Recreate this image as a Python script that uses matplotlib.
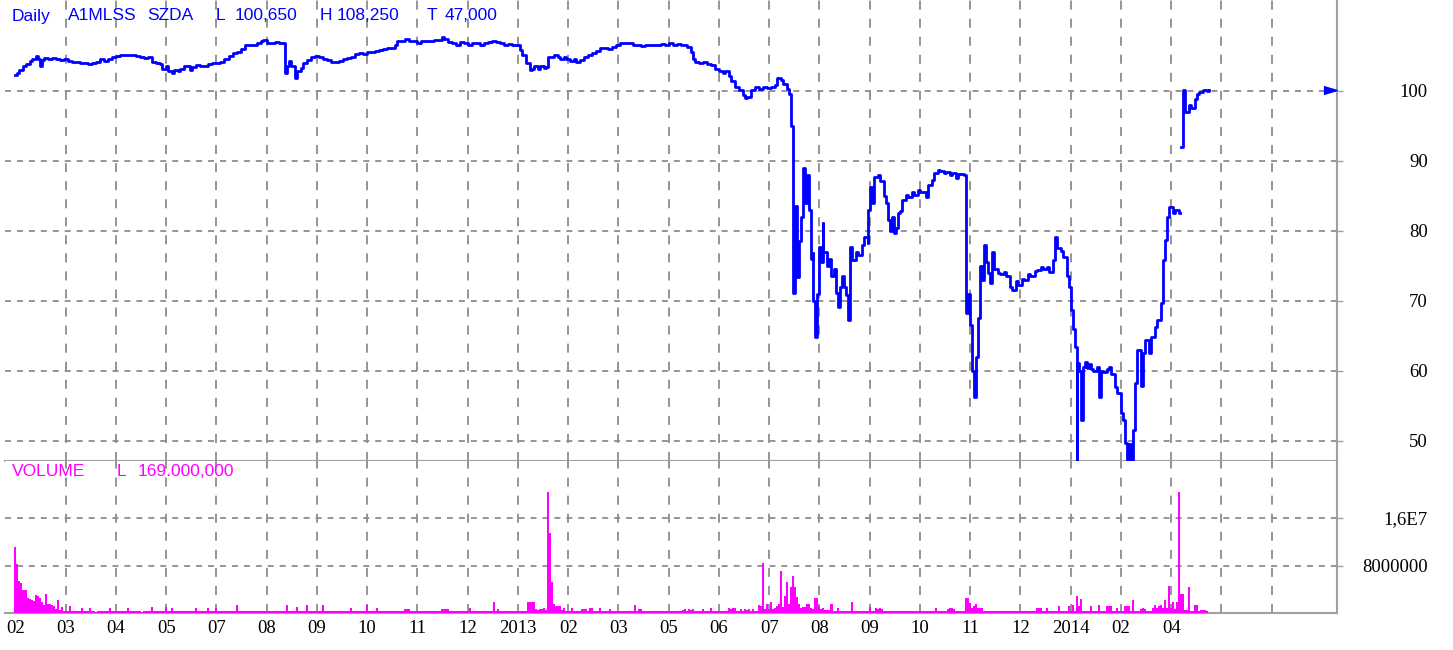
import numpy as np
import matplotlib
matplotlib.use("Agg")
import matplotlib.pyplot as plt
from matplotlib.transforms import blended_transform_factory

plt.rcParams['lines.scale_dashes'] = False

# ---------------- data ----------------
tick_labels = ['02', '03', '04', '05', '07', '08', '09', '10', '11', '12', '2013',
               '02', '03', '05', '06', '07', '08', '09', '10', '11', '12', '2014',
               '02', '04', '', '']
days_per_label = 25

price_ticks = [50, 60, 70, 80, 90, 100]
vol_ticks = [8, 16]
vol_tick_labels = ['8000000', '1,6E7']

header_items = [('Daily', 12), ('A1MLSS', 68), ('SZDA', 147), ('L', 216), ('100,650', 235),
                ('H', 320), ('108,250', 337), ('T', 427), ('47,000', 445)]
volume_header = [('VOLUME', 12), ('L', 117), ('169.000,000', 138)]

# (trading-day index, price)
price_points = [
    (0, 102.3), (1, 102.6), (2, 103.0), (4, 103.5), (5, 103.9), (7, 104.3), (8, 104.6), (10, 105.0),
    (11, 104.6), (12, 103.5), (13, 104.4), (14, 104.7), (16, 104.5), (18, 104.7), (20, 104.6), (22, 104.4),
    (24, 104.5), (26, 104.3), (28, 104.1), (30, 104.2), (32, 104.0), (34, 104.0), (36, 103.9), (38, 104.0),
    (40, 104.1), (42, 104.5), (44, 104.3), (46, 104.6), (48, 104.8), (50, 105.0), (52, 105.1), (54, 105.1),
    (56, 105.1), (58, 105.1), (60, 105.0), (62, 104.9), (64, 104.7), (66, 104.8), (68, 104.2), (70, 104.0),
    (72, 103.8), (73, 103.2), (75, 103.6), (76, 102.8), (78, 102.5), (79, 103.0), (81, 102.9), (82, 103.2),
    (84, 103.6), (85, 103.5), (87, 103.0), (88, 103.4), (90, 103.7), (92, 103.6), (94, 103.6), (96, 103.9),
    (98, 104.0), (100, 104.0), (102, 104.2), (104, 104.6), (106, 105.0), (108, 105.4), (110, 105.6),
    (112, 106.0), (114, 106.5), (116, 106.6), (118, 106.6), (120, 106.9), (122, 107.1), (123, 107.3),
    (125, 106.8), (127, 106.9), (129, 107.0), (131, 106.9), (133, 106.8), (134, 102.5), (135, 103.6),
    (136, 104.3), (137, 103.5), (139, 101.9), (140, 102.8), (142, 103.3), (143, 104.0), (145, 104.4),
    (147, 104.9), (149, 105.0), (151, 104.8), (153, 104.6), (155, 104.4), (157, 104.2), (159, 104.1),
    (161, 104.3), (163, 104.6), (165, 104.7), (167, 104.9), (169, 105.3), (171, 105.4), (173, 105.3),
    (175, 105.5), (177, 105.6), (179, 105.7), (181, 105.9), (183, 106.0), (185, 106.2), (187, 106.1),
    (189, 106.5), (190, 107.2), (192, 107.2), (194, 107.4), (196, 107.2), (198, 107.1), (200, 106.9),
    (202, 107.1), (204, 107.2), (206, 107.1), (208, 107.3), (210, 107.3), (212, 107.7), (213, 107.4),
    (215, 107.0), (217, 106.8), (219, 106.6), (221, 107.0), (223, 106.8), (225, 106.6), (227, 106.9),
    (229, 106.8), (231, 106.5), (233, 106.9), (235, 107.0), (237, 107.1), (239, 107.0), (241, 106.9),
    (243, 106.6), (245, 106.7), (247, 106.5), (249, 106.6), (251, 105.8), (252, 105.2), (254, 104.0),
    (256, 103.0), (257, 103.2), (258, 103.6), (260, 103.2), (261, 103.5), (263, 103.3), (264, 103.4),
    (265, 104.8), (267, 104.9), (268, 105.1), (270, 104.8), (271, 104.6), (273, 104.9), (274, 104.5),
    (276, 104.3), (278, 104.6), (279, 104.1), (281, 104.4), (283, 104.8), (285, 105.2), (287, 105.4),
    (289, 105.7), (291, 106.1), (293, 106.2), (295, 106.0), (297, 106.3), (299, 106.6), (301, 106.8),
    (303, 106.9), (305, 106.8), (307, 106.6), (309, 106.6), (311, 106.4), (313, 106.5), (315, 106.6),
    (317, 106.5), (319, 106.6), (321, 106.7), (323, 106.5), (325, 106.9), (327, 106.6), (329, 106.7),
    (331, 106.5), (333, 106.6), (334, 106.3), (336, 105.5), (337, 104.5), (338, 104.2), (340, 104.0),
    (342, 104.1), (344, 103.8), (346, 103.7), (348, 103.2), (350, 102.9), (352, 102.6), (353, 102.9),
    (355, 102.2), (356, 101.4), (358, 100.6), (360, 100.2), (362, 99.4), (363, 99.0), (364, 99.2),
    (366, 100.2), (368, 100.6), (370, 100.3), (372, 100.6), (374, 100.4), (376, 100.5), (378, 100.9),
    (379, 101.8), (381, 101.5), (382, 101.0), (384, 100.3), (385, 99.6), (386, 95.0), (387, 71.1),
    (388, 83.5), (389, 73.4), (390, 78.5), (391, 82.0), (392, 84.5), (392, 89.0), (393, 84.0),
    (394, 88.0), (395, 83.0), (396, 76.0), (397, 76.9), (397, 70.0), (398, 64.9), (399, 71.0),
    (400, 77.7), (401, 75.5), (402, 81.1), (402, 77.0), (404, 75.0), (405, 76.0), (406, 73.5),
    (407, 74.5), (408, 71.1), (409, 69.2), (410, 72.0), (411, 73.5), (412, 72.0), (413, 70.8),
    (414, 70.0), (414, 67.3), (415, 77.7), (416, 75.9), (418, 77.0), (419, 76.5), (421, 78.0),
    (422, 79.2), (424, 78.3), (424, 83.0), (425, 86.3), (426, 84.0), (427, 87.7), (429, 88.0),
    (430, 87.2), (432, 85.0), (433, 84.0), (434, 81.5), (435, 80.0), (436, 82.0), (437, 79.7),
    (438, 80.4), (439, 82.5), (440, 82.8), (441, 84.4), (443, 85.2), (444, 84.8), (446, 85.6),
    (447, 85.2), (449, 85.8), (450, 85.5), (452, 85.6), (453, 84.8), (454, 86.5), (456, 87.3),
    (457, 88.3), (459, 88.7), (460, 88.5), (462, 88.3), (463, 88.4), (465, 88.0), (466, 88.3),
    (468, 87.5), (469, 88.2), (471, 88.2), (472, 88.0), (473, 68.3), (474, 71.0), (475, 66.5),
    (476, 60.0), (477, 56.3), (478, 62.0), (479, 67.5), (480, 75.0), (481, 73.0), (482, 78.0),
    (483, 75.5), (484, 74.0), (485, 72.5), (486, 77.0), (487, 74.5), (489, 74.0), (490, 73.8),
    (492, 74.2), (493, 73.5), (495, 72.0), (496, 71.5), (498, 72.8), (499, 72.3), (501, 73.2),
    (502, 73.0), (504, 73.8), (505, 73.5), (507, 74.3), (508, 74.4), (510, 74.8), (511, 74.5),
    (513, 74.9), (514, 74.2), (516, 75.8), (517, 79.1), (518, 77.5), (520, 77.2), (521, 76.3),
    (523, 73.5), (524, 72.0), (525, 68.7), (526, 66.0), (527, 63.4), (528, 47.0), (528, 61.1),
    (529, 60.0), (530, 53.0), (531, 60.5), (532, 61.3), (533, 60.4), (534, 61.0), (535, 60.3),
    (536, 60.0), (538, 60.6), (539, 56.3), (540, 60.0), (541, 59.8), (543, 60.3), (544, 60.6),
    (545, 59.5), (547, 57.7), (548, 56.8), (550, 54.0), (551, 53.0), (552, 49.7), (553, 47.3),
    (554, 49.5), (555, 47.3), (556, 51.6), (557, 58.3), (558, 63.0), (560, 57.9), (561, 62.6),
    (562, 64.4), (564, 62.6), (565, 64.8), (567, 66.3), (568, 67.3), (570, 69.7), (571, 71.1),
    (571, 75.9), (572, 78.7), (573, 82.0), (574, 83.4), (576, 82.6), (577, 83.0), (579, 82.5),
    (579.5, np.nan),
    (580, 92.0), (581, 96.5), (581, 100.2), (582, 97.0), (584, 98.0), (585, 97.5), (587, 98.8),
    (588, 99.6), (589, 99.8), (591, 100.2), (593, 100.0), (594, 100.1),
]

# daily volume in millions, one row per label interval (25 trading days)
vol_millions = [
    11.1, 8.3, 5.4, 5.0, 3.9, 3.8, 2.6, 2.4, 2.2, 2.0, 3.0, 2.9, 2.6, 1.8, 1.4, 3.2, 1.5, 1.5, 1.4, 1.2, 0.6, 2.2, 0.5, 1.0, 0.4,
    0.4, 0.4, 1.1, 0.3, 0.3, 0.3, 0.4, 0.3, 0.8, 0.3, 0.3, 0.3, 0.8, 0.3, 0.3, 0.2, 0.3, 0.3, 0.3, 0.3, 0.3, 0.3, 0.8, 0.3, 0.3,
    0.3, 0.3, 0.3, 0.3, 0.4, 0.3, 0.8, 0.3, 0.3, 0.3, 0.3, 0.3, 0.3, 0.2, 0.3, 0.3, 0.3, 0.3, 1.0, 0.3, 0.3, 0.3, 0.3, 0.3, 0.3,
    1.0, 0.3, 0.3, 0.8, 0.3, 0.3, 0.3, 0.3, 0.3, 0.3, 0.4, 0.3, 0.3, 0.3, 0.3, 0.8, 0.3, 0.3, 0.3, 0.3, 0.3, 0.8, 0.3, 0.3, 0.3,
    0.8, 0.3, 0.3, 0.3, 0.3, 0.3, 0.3, 0.3, 0.3, 0.3, 1.4, 0.3, 0.3, 0.3, 0.3, 0.3, 0.3, 0.3, 0.3, 0.3, 0.3, 0.3, 0.3, 0.3, 0.3,
    0.3, 0.3, 0.3, 0.3, 0.3, 0.3, 0.3, 0.3, 0.3, 0.3, 1.4, 0.3, 0.3, 0.3, 0.3, 1.0, 0.3, 0.3, 0.3, 0.3, 1.4, 0.3, 0.3, 0.3, 0.3,
    0.3, 0.3, 0.3, 1.4, 0.3, 0.3, 0.3, 0.3, 0.3, 0.3, 0.3, 0.3, 0.3, 0.3, 0.3, 0.3, 0.3, 0.8, 0.3, 0.3, 0.3, 0.3, 0.3, 0.3, 0.3,
    1.4, 0.3, 0.3, 0.3, 0.3, 0.8, 0.3, 0.3, 0.3, 0.3, 0.3, 0.3, 0.3, 0.3, 0.3, 0.3, 0.3, 0.3, 0.3, 0.6, 0.6, 0.6, 0.3, 0.3, 0.3,
    0.3, 0.3, 0.3, 0.3, 0.3, 0.3, 0.3, 0.3, 0.3, 0.3, 0.3, 0.3, 0.6, 0.6, 0.6, 0.6, 0.3, 0.3, 0.3, 0.3, 0.3, 0.3, 0.3, 0.3, 0.3,
    0.3, 0.9, 0.3, 0.3, 0.3, 0.3, 0.3, 0.3, 0.3, 0.3, 0.3, 0.3, 0.3, 1.9, 0.3, 0.6, 0.3, 0.3, 0.3, 0.3, 0.3, 0.3, 0.3, 0.3, 0.3,
    0.3, 0.3, 0.3, 0.3, 0.3, 1.9, 1.9, 1.9, 1.9, 0.6, 0.5, 0.6, 0.6, 0.9, 0.5, 20.3, 13.4, 5.2, 1.5, 1.1, 1.1, 1.1, 0.5, 0.9, 0.4,
    0.3, 0.3, 0.9, 0.3, 0.3, 0.3, 0.3, 0.6, 0.6, 0.6, 0.3, 0.9, 0.9, 0.3, 0.3, 0.3, 0.9, 0.3, 0.3, 0.3, 0.3, 0.6, 0.3, 0.3, 0.3,
    0.3, 0.3, 0.3, 0.3, 0.3, 0.3, 0.3, 0.3, 1.3, 0.3, 0.6, 0.6, 0.3, 0.3, 0.3, 0.3, 0.3, 0.3, 0.3, 0.3, 0.3, 0.3, 0.3, 0.3, 0.3,
    0.3, 0.3, 0.3, 0.3, 0.3, 0.3, 0.3, 0.5, 0.6, 0.4, 0.6, 0.5, 0.6, 0.3, 0.3, 0.3, 0.3, 0.6, 0.3, 0.3, 0.3, 0.9, 0.3, 0.3, 0.3,
    0.3, 0.3, 0.3, 0.3, 0.3, 0.9, 0.6, 0.9, 0.9, 0.3, 0.3, 0.6, 0.4, 0.6, 0.5, 0.6, 0.4, 0.6, 0.3, 0.3, 1.3, 1.1, 8.4, 0.6, 1.5,
    0.6, 1.9, 0.6, 0.8, 1.1, 1.5, 7.0, 1.0, 2.9, 5.3, 1.5, 4.3, 6.3, 4.3, 2.7, 1.5, 0.8, 1.0, 1.0, 1.5, 1.5, 0.8, 0.6, 2.5, 2.5,
    1.1, 0.6, 0.9, 0.5, 0.5, 0.5, 1.6, 0.4, 0.4, 0.9, 0.4, 0.4, 0.4, 0.4, 0.4, 0.4, 1.8, 0.3, 0.3, 0.3, 0.3, 0.3, 0.3, 0.3, 0.3,
    1.0, 0.3, 0.3, 0.9, 0.6, 0.9, 0.6, 0.3, 0.3, 0.3, 0.3, 0.3, 0.3, 0.3, 0.3, 0.3, 0.3, 0.3, 0.3, 0.3, 0.3, 0.3, 0.3, 0.3, 0.3,
    0.3, 0.3, 0.3, 0.3, 0.3, 0.3, 0.3, 0.3, 0.9, 0.3, 0.3, 0.3, 0.3, 0.3, 0.6, 0.9, 0.9, 0.6, 0.3, 0.3, 0.3, 0.3, 0.3, 2.6, 2.6,
    1.7, 0.9, 1.2, 1.5, 0.9, 0.9, 0.9, 0.3, 0.3, 0.3, 0.3, 0.3, 0.3, 0.3, 0.3, 0.3, 0.3, 0.3, 0.3, 0.3, 0.3, 0.3, 0.3, 0.3, 0.3,
    0.3, 0.3, 0.3, 0.3, 0.3, 0.3, 0.3, 0.3, 0.9, 0.9, 0.9, 0.3, 0.3, 0.9, 0.3, 0.3, 0.3, 0.3, 0.3, 1.1, 0.3, 0.3, 0.3, 0.3, 1.1,
    0.3, 1.4, 0.3, 2.9, 1.2, 2.3, 0.3, 0.3, 0.3, 0.3, 1.1, 0.3, 0.3, 0.3, 1.4, 0.3, 0.3, 0.3, 1.1, 1.1, 1.1, 0.3, 0.3, 0.9, 0.3,
    0.3, 0.3, 1.1, 1.1, 1.1, 0.3, 2.2, 0.3, 0.3, 0.3, 0.6, 0.9, 0.6, 0.3, 0.3, 0.3, 0.9, 1.4, 0.9, 1.1, 1.4, 0.9, 2.2, 0.8, 4.6,
    0.8, 1.8, 0.6, 1.8, 20.3, 3.2, 3.2, 0.5, 0.5, 4.3, 0.4, 0.3, 1.3, 1.3, 0.4, 0.5, 0.5, 0.5, 0.3,
]

# ---------------- styling ----------------
BLUE = '#0000ff'
MAGENTA = '#ff00ff'
FRAME = '#a0a0a0'
GRID = '#8c8c8c'
SERIF = ['Liberation Serif', 'DejaVu Serif']
SANS = ['Liberation Sans', 'DejaVu Sans']

W, H = 1453, 650
fig = plt.figure(figsize=(W / 100, H / 100), dpi=100)


def fx(px):
    return px / W


def fy(py):
    return 1 - py / H


ax1 = fig.add_axes([fx(5), fy(461), fx(1337) - fx(5), fy(0) - fy(461)])
ax2 = fig.add_axes([fx(5), fy(613), fx(1337) - fx(5), fy(461) - fy(613)], sharex=ax1)

price_day = np.array([p[0] for p in price_points], dtype=float)
price_val = np.array([p[1] for p in price_points], dtype=float)
vol_day = np.arange(len(vol_millions))
vol_val = np.array(vol_millions)

tick_days = np.arange(len(tick_labels)) * days_per_label

for ax in (ax1, ax2):
    for s in ('top', 'left'):
        ax.spines[s].set_visible(False)
    for s in ('right', 'bottom'):
        ax.spines[s].set_color(FRAME)
        ax.spines[s].set_linewidth(1.5)
    ax.set_facecolor('white')
    for d in tick_days[1:]:
        ax.axvline(d, color=GRID, lw=1.3, linestyle=(0, (6.5, 6.5)), zorder=1)

ax1.set_xlim(-5.2, 657.5)
ax1.set_ylim(47.14, 113.0)
ax2.set_ylim(0, 25.6)

for v in price_ticks:
    ax1.axhline(v, color=GRID, lw=1.3, linestyle=(0, (4.3, 4.3)), zorder=1)
for v in vol_ticks:
    ax2.axhline(v, color=GRID, lw=1.3, linestyle=(0, (4.3, 4.3)), zorder=1)

# price line (stepped, as in the trading terminal rendering)
ax1.plot(price_day, price_val, color=BLUE, lw=2.0, drawstyle='steps-post', zorder=3)

# last value marker at the right edge
last_val = price_val[~np.isnan(price_val)][-1]
trans = blended_transform_factory(ax1.transAxes, ax1.transData)
ax1.plot([0.9947], [last_val], transform=trans, marker=[(-1, -0.6), (1, 0), (-1, 0.6)],
         markersize=9.5, color=BLUE, clip_on=False, zorder=4)

# volume bars
ax2.bar(vol_day, vol_val, width=1.0, color=MAGENTA, linewidth=0, zorder=3, align='center')

# ticks
ax1.tick_params(axis='x', bottom=False, labelbottom=False)
ax1.yaxis.tick_right()
ax1.set_yticks(price_ticks)
ax1.set_yticklabels([str(v) for v in price_ticks], ha='right', fontfamily=SERIF, fontsize=13.5)
ax1.tick_params(axis='y', length=4, width=1, color=FRAME, pad=61.5)

ax2.yaxis.tick_right()
ax2.set_yticks(vol_ticks)
ax2.set_yticklabels(vol_tick_labels, ha='right', fontfamily=SERIF, fontsize=13.5)
ax2.tick_params(axis='y', length=4, width=1, color=FRAME, pad=61.5)

ax2.set_xticks(tick_days)
ax2.set_xticklabels(tick_labels, fontfamily=SERIF, fontsize=13.5)
ax2.tick_params(axis='x', length=0, pad=5)

# header texts
for txt, px in header_items:
    fig.text(fx(px), fy(16), txt, color=BLUE, fontfamily=SANS, fontsize=12.5, va='center', ha='left')
for txt, px in volume_header:
    fig.text(fx(px), fy(472), txt, color=MAGENTA, fontfamily=SANS, fontsize=12.5, va='center', ha='left')

fig.savefig('out.png', dpi=100, facecolor='white')
